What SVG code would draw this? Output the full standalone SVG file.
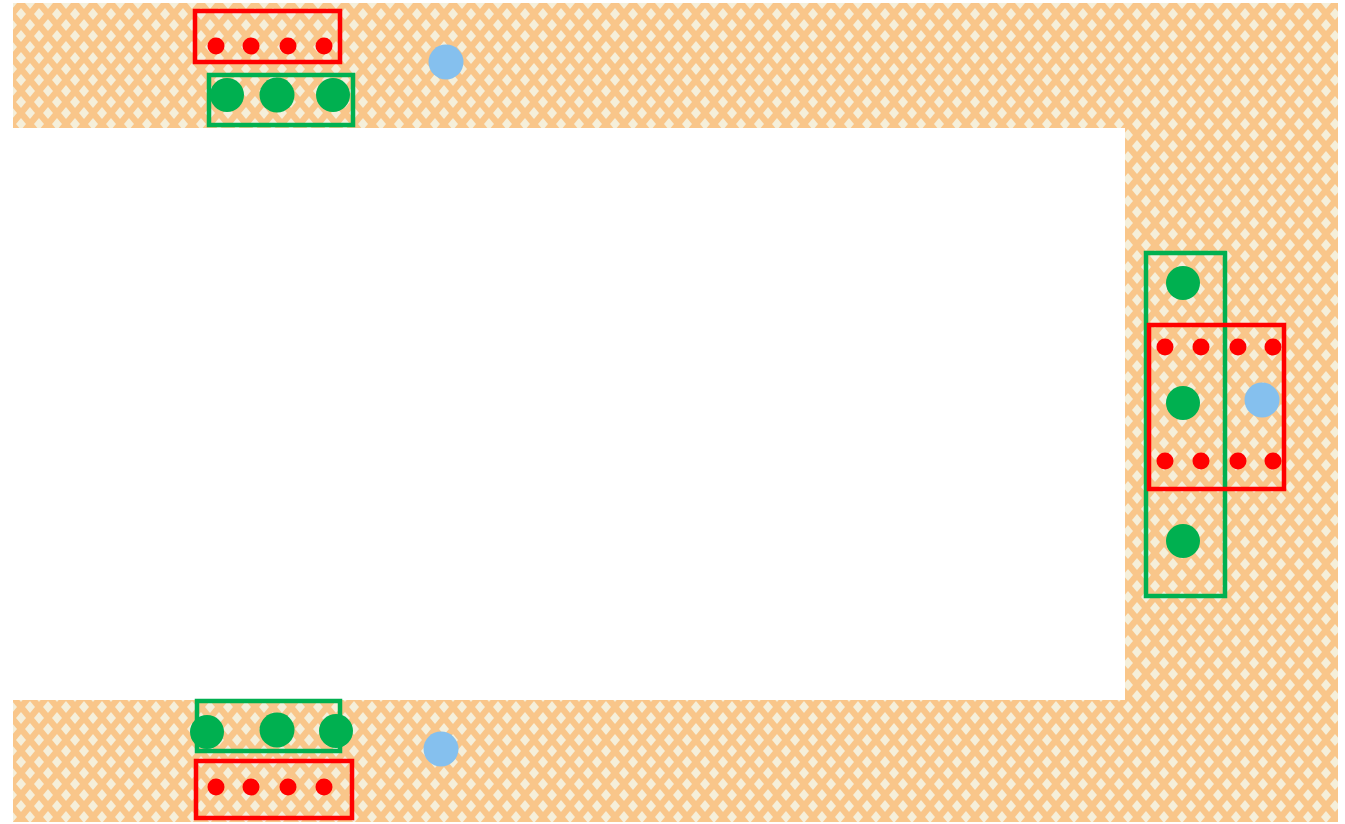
<svg xmlns="http://www.w3.org/2000/svg" width="1345" height="824" viewBox="0 0 1345 824">
  <defs>
    <pattern id="diam" x="12" y="3" width="18" height="22" patternUnits="userSpaceOnUse">
      <rect width="18" height="22" fill="#F9C68A"/>
      <polygon points="9,5 14,11 9,17 4,11" fill="#F5EFDA"/>
      <polygon points="0,-6 5,0 0,6 -5,0" fill="#F5EFDA"/>
      <polygon points="18,-6 23,0 18,6 13,0" fill="#F5EFDA"/>
      <polygon points="0,16 5,22 0,28 -5,22" fill="#F5EFDA"/>
      <polygon points="18,16 23,22 18,28 13,22" fill="#F5EFDA"/>
    </pattern>
  </defs>
  <style>
    .red { fill: none; stroke: #FF0000; stroke-width: 4.5; }
    .grn { fill: none; stroke: #00B050; stroke-width: 4.5; }
    .rdot { fill: #FF0000; }
    .gdot { fill: #00B050; }
    .bdot { fill: #85C0EE; }
  </style>
  <rect width="1345" height="824" fill="#FFFFFF"/>
  <path id="corridor" d="M13,3 H1338 V822 H13 V700 H1125 V128 H13 Z" fill="url(#diam)"/>

  <g id="top-red">
    <rect class="red" x="195" y="11" width="145" height="51"/>
    <circle class="rdot" cx="216" cy="46" r="8.5"/>
    <circle class="rdot" cx="251" cy="46" r="8.5"/>
    <circle class="rdot" cx="288" cy="46" r="8.5"/>
    <circle class="rdot" cx="324" cy="46" r="8.5"/>
  </g>
  <g id="top-green">
    <rect class="grn" x="209" y="75" width="144" height="50"/>
    <circle class="gdot" cx="227" cy="95" r="17"/>
    <circle class="gdot" cx="277" cy="95" r="17.5"/>
    <circle class="gdot" cx="333" cy="95" r="17"/>
  </g>
  <circle id="top-blue" class="bdot" cx="446" cy="62" r="17.5"/>

  <g id="right-green">
    <rect class="grn" x="1146" y="253" width="79" height="343"/>
    <circle class="gdot" cx="1183" cy="283" r="17"/>
    <circle class="gdot" cx="1183" cy="403" r="17"/>
    <circle class="gdot" cx="1183" cy="541" r="17"/>
  </g>
  <g id="right-red">
    <rect class="red" x="1149" y="325" width="135" height="164"/>
    <circle class="rdot" cx="1165" cy="347" r="8.5"/>
    <circle class="rdot" cx="1201" cy="347" r="8.5"/>
    <circle class="rdot" cx="1238" cy="347" r="8.5"/>
    <circle class="rdot" cx="1273" cy="347" r="8.5"/>
    <circle class="rdot" cx="1165" cy="461" r="8.5"/>
    <circle class="rdot" cx="1201" cy="461" r="8.5"/>
    <circle class="rdot" cx="1238" cy="461" r="8.5"/>
    <circle class="rdot" cx="1273" cy="461" r="8.5"/>
  </g>
  <circle id="right-blue" class="bdot" cx="1262" cy="400" r="17.5"/>

  <g id="bottom-green">
    <rect class="grn" x="197" y="701" width="143" height="50"/>
    <circle class="gdot" cx="207" cy="732" r="17"/>
    <circle class="gdot" cx="277" cy="730" r="17.5"/>
    <circle class="gdot" cx="336" cy="731" r="17"/>
  </g>
  <g id="bottom-red">
    <rect class="red" x="196" y="761" width="156" height="57"/>
    <circle class="rdot" cx="216" cy="787" r="8.5"/>
    <circle class="rdot" cx="251" cy="787" r="8.5"/>
    <circle class="rdot" cx="288" cy="787" r="8.5"/>
    <circle class="rdot" cx="324" cy="787" r="8.5"/>
  </g>
  <circle id="bottom-blue" class="bdot" cx="441" cy="749" r="17.5"/>
</svg>
